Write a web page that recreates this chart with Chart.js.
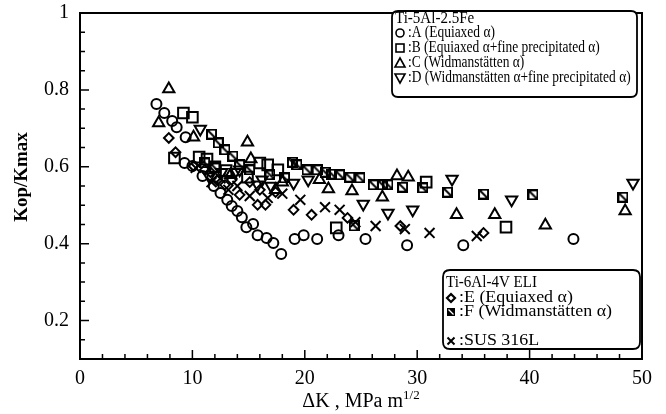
<!DOCTYPE html>
<html>
<head>
<meta charset="utf-8">
<script src="https://cdn.jsdelivr.net/npm/chart.js@4.4.1/dist/chart.umd.min.js"></script>
<style>
  html, body { margin: 0; padding: 0; background: #fff; }
</style>
</head>
<body>
<canvas id="chart" width="666" height="414"></canvas>
<script>
// Ti-5Al-2.5Fe, A: equiaxed alpha (circles)
var aX = [6.8, 7.5, 8.2, 8.6, 9.4, 9.3, 10.0, 10.9, 11.9, 12.5, 13.1, 13.5, 14.0, 14.4, 14.8, 15.4, 15.8, 16.6, 17.2, 17.9, 19.1, 19.9, 21.1, 23.0, 25.4, 29.1, 34.1, 43.9];
var aY = [0.763, 0.740, 0.719, 0.703, 0.677, 0.610, 0.602, 0.576, 0.550, 0.532, 0.514, 0.498, 0.485, 0.469, 0.443, 0.451, 0.422, 0.415, 0.402, 0.373, 0.412, 0.422, 0.412, 0.422, 0.412, 0.396, 0.396, 0.412];
// B: equiaxed + fine precipitated alpha (squares)
var bX = [9.2, 10.0, 8.4, 10.6, 11.3, 14.9, 16.0, 16.7, 17.6, 22.8, 30.8, 37.9, 12.0, 13.0];
var bY = [0.740, 0.729, 0.623, 0.625, 0.620, 0.573, 0.610, 0.605, 0.592, 0.441, 0.560, 0.443, 0.600, 0.590];
// C: Widmanstatten alpha (triangles)
var cX = [7.9, 7.0, 10.1, 14.9, 15.2, 13.4, 18.0, 17.4, 21.3, 22.1, 24.2, 26.9, 28.2, 29.2, 33.5, 36.9, 41.4, 48.5];
var cY = [0.802, 0.714, 0.677, 0.664, 0.620, 0.579, 0.560, 0.540, 0.566, 0.542, 0.537, 0.521, 0.576, 0.573, 0.475, 0.475, 0.448, 0.485];
// D: Widmanstatten + fine precipitated alpha (down triangles)
var dX = [10.7, 11.5, 12.6, 13.8, 14.2, 15.8, 16.2, 17.0, 19.0, 20.3, 25.2, 27.4, 29.6, 33.1, 38.4, 49.2];
var dY = [0.698, 0.575, 0.586, 0.586, 0.592, 0.553, 0.566, 0.550, 0.558, 0.566, 0.503, 0.480, 0.488, 0.568, 0.514, 0.558];
// Ti-6Al-4V ELI, E: equiaxed alpha (diamonds)
var eX = [7.9, 8.5, 10.1, 11.1, 11.6, 12.2, 12.9, 14.2, 15.1, 13.5, 16.0, 15.8, 16.5, 17.4, 19.0, 20.6, 23.8, 28.5, 35.9];
var eY = [0.675, 0.638, 0.602, 0.592, 0.586, 0.565, 0.553, 0.527, 0.560, 0.566, 0.540, 0.501, 0.501, 0.534, 0.488, 0.475, 0.467, 0.446, 0.428];
// F: Widmanstatten alpha (hatched squares)
var fX = [11.7, 12.3, 12.9, 13.6, 18.9, 19.3, 20.2, 21.1, 21.8, 22.4, 23.1, 24.0, 24.9, 26.1, 26.9, 27.4, 28.7, 30.5, 32.7, 35.9, 40.3, 48.3, 24.4, 11.1, 12.0, 14.2, 15.1, 16.9, 18.2];
var fY = [0.685, 0.662, 0.644, 0.628, 0.612, 0.605, 0.592, 0.592, 0.586, 0.581, 0.579, 0.573, 0.571, 0.553, 0.553, 0.553, 0.547, 0.545, 0.534, 0.529, 0.527, 0.521, 0.446, 0.610, 0.597, 0.605, 0.592, 0.579, 0.571];
// SUS 316L (crosses)
var sX = [10.3, 11.7, 12.5, 13.2, 14.0, 15.1, 16.7, 18.0, 19.6, 21.8, 23.1, 24.5, 26.3, 28.9, 31.1, 35.3];
var sY = [0.597, 0.560, 0.570, 0.540, 0.550, 0.524, 0.519, 0.530, 0.514, 0.495, 0.488, 0.456, 0.446, 0.438, 0.428, 0.420];

var xLabels = ['0', '10', '20', '30', '40', '50'];
var yLabels = ['0.2', '0.4', '0.6', '0.8', '1'];

var serif = "'Liberation Serif', 'Times New Roman', serif";

function pairs(xs, ys) {
  return xs.map(function(v, i) { return { x: v, y: ys[i] }; });
}

// hatched square marker for series F
function hatchSquare(size) {
  var c = document.createElement('canvas');
  c.width = size; c.height = size;
  var g = c.getContext('2d');
  g.strokeStyle = '#000';
  g.lineWidth = 2;
  g.strokeRect(1, 1, size - 2, size - 2);
  g.beginPath();
  g.moveTo(1, 1);
  g.lineTo(size - 1, size - 1);
  g.stroke();
  return c;
}

function series(label, xs, ys, style, radius, rotation) {
  return {
    label: label,
    data: pairs(xs, ys),
    showLine: false,
    pointStyle: style,
    pointRadius: radius,
    pointRotation: rotation || 0,
    pointBorderColor: '#000',
    pointBackgroundColor: 'rgba(0,0,0,0)',
    pointBorderWidth: 2
  };
}

// small legend symbols
function legendMark(ctx, kind, x, y) {
  ctx.save();
  ctx.strokeStyle = '#000';
  ctx.fillStyle = '#000';
  ctx.lineWidth = 1.6;
  ctx.beginPath();
  if (kind === 'circle') {
    ctx.arc(x, y, 4, 0, Math.PI * 2);
    ctx.stroke();
  } else if (kind === 'square') {
    ctx.strokeRect(x - 4, y - 4, 8, 8);
  } else if (kind === 'tri') {
    ctx.moveTo(x, y - 5); ctx.lineTo(x + 5, y + 4); ctx.lineTo(x - 5, y + 4); ctx.closePath();
    ctx.stroke();
  } else if (kind === 'dtri') {
    ctx.moveTo(x, y + 5); ctx.lineTo(x + 5, y - 4); ctx.lineTo(x - 5, y - 4); ctx.closePath();
    ctx.stroke();
  } else if (kind === 'diamond') {
    ctx.lineWidth = 2.2;
    ctx.moveTo(x, y - 4); ctx.lineTo(x + 4, y); ctx.lineTo(x, y + 4); ctx.lineTo(x - 4, y); ctx.closePath();
    ctx.stroke();
  } else if (kind === 'hatch') {
    ctx.fillRect(x - 4, y - 4, 8, 8);
    ctx.strokeStyle = '#fff';
    ctx.lineWidth = 1.2;
    ctx.moveTo(x - 2.5, y - 2.5); ctx.lineTo(x + 2.5, y + 2.5);
    ctx.stroke();
  } else if (kind === 'cross') {
    ctx.lineWidth = 2;
    ctx.moveTo(x - 3.5, y - 3.5); ctx.lineTo(x + 3.5, y + 3.5);
    ctx.moveTo(x + 3.5, y - 3.5); ctx.lineTo(x - 3.5, y + 3.5);
    ctx.stroke();
  }
  ctx.restore();
}

// text squeezed or stretched horizontally
function wideText(ctx, text, x, y, sx) {
  ctx.save();
  ctx.translate(x, y);
  ctx.scale(sx, 1);
  ctx.fillText(text, 0, 0);
  ctx.restore();
}

function roundBox(ctx, x, y, w, h, r) {
  ctx.beginPath();
  ctx.moveTo(x + r, y);
  ctx.lineTo(x + w - r, y);
  ctx.quadraticCurveTo(x + w, y, x + w, y + r);
  ctx.lineTo(x + w, y + h - r);
  ctx.quadraticCurveTo(x + w, y + h, x + w - r, y + h);
  ctx.lineTo(x + r, y + h);
  ctx.quadraticCurveTo(x, y + h, x, y + h - r);
  ctx.lineTo(x, y + r);
  ctx.quadraticCurveTo(x, y, x + r, y);
  ctx.closePath();
}

// frame, inward ticks, axis titles and the two legend boxes
var framePlugin = {
  id: 'frame',
  afterDraw: function(chart) {
    var ctx = chart.ctx;
    var a = chart.chartArea;
    var xs = chart.scales.x, ys = chart.scales.y;
    ctx.save();
    ctx.strokeStyle = '#000';
    ctx.lineWidth = 2;
    ctx.strokeRect(a.left, a.top, a.right - a.left, a.bottom - a.top);

    ctx.lineWidth = 1.5;
    ctx.beginPath();
    ys.ticks.forEach(function(t) {
      var py = ys.getPixelForValue(t.value);
      if (py <= a.top + 1 || py >= a.bottom - 1) return;
      var major = Math.round(t.value * 100) % 20 === 0;
      ctx.moveTo(a.left, py);
      ctx.lineTo(a.left + (major ? 9 : 5), py);
    });
    xs.ticks.forEach(function(t) {
      var px = xs.getPixelForValue(t.value);
      if (px <= a.left + 1 || px >= a.right - 1) return;
      var major = Math.round(t.value) % 10 === 0;
      ctx.moveTo(px, a.bottom);
      ctx.lineTo(px, a.bottom - (major ? 9 : 5));
    });
    ctx.stroke();

    // x title with superscript
    ctx.fillStyle = '#000';
    ctx.textBaseline = 'alphabetic';
    var main = '\u0394K , MPa m';
    ctx.font = '13px ' + serif;
    var supW = ctx.measureText('1/2').width;
    ctx.font = '20px ' + serif;
    var mainW = ctx.measureText(main).width;
    var cx = (a.left + a.right) / 2;
    var x0 = cx - (mainW + supW) / 2;
    ctx.textAlign = 'left';
    ctx.fillText(main, x0, 407);
    ctx.font = '13px ' + serif;
    ctx.fillText('1/2', x0 + mainW, 399);

    // y title
    ctx.save();
    ctx.translate(22, 177);
    ctx.rotate(-Math.PI / 2);
    ctx.font = 'bold 19px ' + serif;
    ctx.textAlign = 'center';
    ctx.textBaseline = 'middle';
    ctx.fillText('Kop/Kmax', 0, 0);
    ctx.restore();

    // legend 1
    ctx.lineWidth = 1.8;
    roundBox(ctx, 392, 11, 245, 86, 6);
    ctx.fillStyle = '#fff';
    ctx.fill();
    ctx.stroke();
    ctx.fillStyle = '#000';
    ctx.font = '16px ' + serif;
    ctx.textAlign = 'left';
    ctx.textBaseline = 'middle';
    wideText(ctx, 'Ti-5Al-2.5Fe', 395, 19, 0.94);
    var rows1 = [
      ['circle', ':A (Equiaxed \u03b1)', 33],
      ['square', ':B (Equiaxed \u03b1+fine precipitated \u03b1)', 48],
      ['tri', ':C (Widmanst\u00e4tten \u03b1)', 63],
      ['dtri', ':D (Widmanst\u00e4tten \u03b1+fine precipitated \u03b1)', 78]
    ];
    rows1.forEach(function(r) {
      legendMark(ctx, r[0], 400, r[2]);
      wideText(ctx, r[1], 408, r[2], 0.84);
    });

    // legend 2
    roundBox(ctx, 443, 270, 197, 79, 7);
    ctx.fillStyle = '#fff';
    ctx.fill();
    ctx.stroke();
    ctx.fillStyle = '#000';
    wideText(ctx, 'Ti-6Al-4V ELI', 446, 283, 0.94);
    var rows2 = [
      ['diamond', ':E (Equiaxed \u03b1)', 298],
      ['hatch', ':F (Widmanst\u00e4tten \u03b1)', 312],
      ['cross', ':SUS 316L', 341]
    ];
    rows2.forEach(function(r) {
      legendMark(ctx, r[0], 451, r[2]);
      wideText(ctx, r[1], 459, r[2], 1.12);
    });
    ctx.restore();
  }
};

var ctx = document.getElementById('chart').getContext('2d');
var chart = new Chart(ctx, {
  type: 'scatter',
  data: {
    datasets: [
      series('A', aX, aY, 'circle', 5),
      series('B', bX, bY, 'rect', 7.5),
      series('C', cX, cY, 'triangle', 6.5),
      series('D', dX, dY, 'triangle', 6.5, 180),
      series('E', eX, eY, 'rectRot', 4.8),
      series('F', fX, fY, hatchSquare(11), 5),
      series('SUS 316L', sX, sY, 'crossRot', 7)
    ]
  },
  options: {
    responsive: false,
    animation: false,
    layout: { padding: { top: 13, right: 24, left: 0, bottom: 0 } },
    plugins: {
      legend: { display: false },
      tooltip: { enabled: false }
    },
    scales: {
      x: {
        type: 'linear',
        min: 0,
        max: 50,
        grid: { display: false, drawTicks: false },
        border: { display: false },
        afterFit: function(s) {
          s.height = 55;
          s.paddingLeft = 0; s.paddingRight = 0;
        },
        ticks: {
          stepSize: 2,
          autoSkip: false,
          maxRotation: 0,
          padding: 8,
          color: '#000',
          font: { family: serif, size: 20 },
          callback: function(v) {
            var k = Math.round(v);
            return k % 10 === 0 ? xLabels[k / 10] : '';
          }
        }
      },
      y: {
        type: 'linear',
        min: 0.1,
        max: 1,
        grid: { display: false, drawTicks: false },
        border: { display: false },
        afterFit: function(s) {
          s.width = 80;
          s.paddingTop = 0; s.paddingBottom = 0;
        },
        ticks: {
          stepSize: 0.05,
          autoSkip: false,
          padding: 11,
          color: '#000',
          font: { family: serif, size: 20 },
          callback: function(v) {
            var k = Math.round(v * 100);
            return k % 20 === 0 ? yLabels[k / 20 - 1] : '';
          }
        }
      }
    }
  },
  plugins: [framePlugin]
});
</script>
</body>
</html>
